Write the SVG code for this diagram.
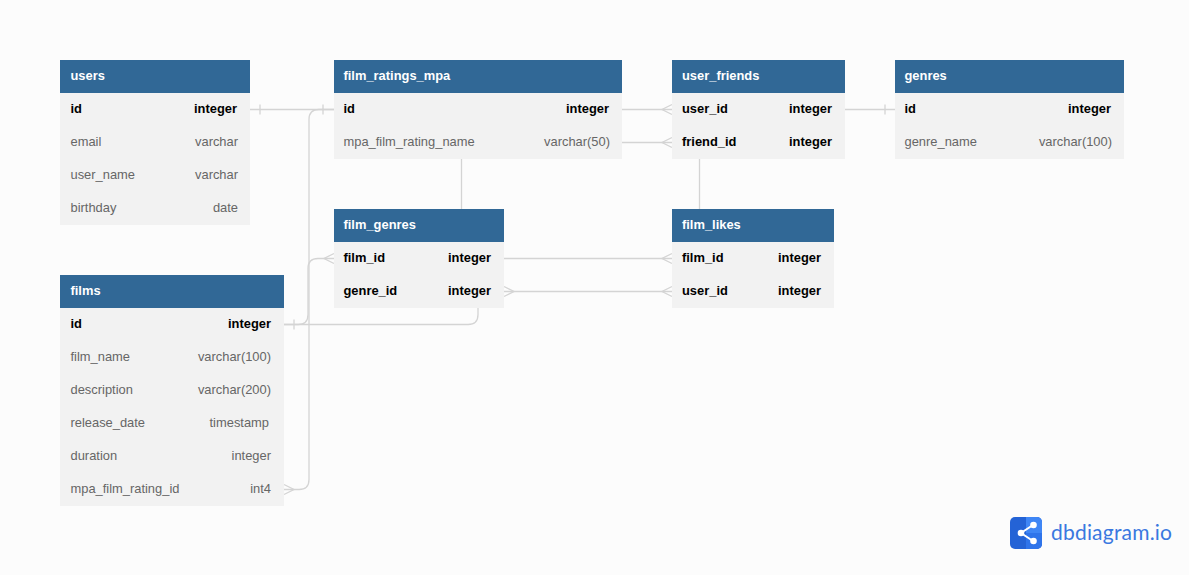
<svg xmlns="http://www.w3.org/2000/svg" width="1189" height="575" viewBox="0 0 1189 575">
<style>
text{font-family:"Liberation Sans",Arial,sans-serif;font-size:12.9px}
.hb{fill:#316896}
.bd{fill:#f2f2f2}
.h{fill:#fff;font-weight:700}
.k{fill:#000;font-weight:700}
.n{fill:#666}
.e{text-anchor:end}
.c{fill:none;stroke:#d4d4d4;stroke-width:1.3}
</style>
<rect width="1189" height="575" fill="#fcfcfc"/>
<g id="connectors" class="c">
<path d="M250 109.500H334M260 104.500v10M323 104.500v10"/>
<path d="M284 489.500H299Q309 489.500 309 479.500V119.500Q309 109.500 319 109.500H334"/>
<path d="M284 484.500L294 489.500L284 494.500"/>
<path d="M284 324.500H298Q308 324.500 308 314.500V268.500Q308 258.500 318 258.500H334"/>
<path d="M334 253.500L324 258.500L334 263.500M294 319.500v10"/>
<path d="M284 324.500H468Q478 324.500 478 314.500V308"/>
<path d="M461.500 159V209M699.500 159V209"/>
<path d="M622 109.500H672M622 142.500H672"/>
<path d="M672 104.500L662 109.500L672 114.500M672 137.500L662 142.500L672 147.500"/>
<path d="M845 109.500H895M885 104.500v10"/>
<path d="M504 258.500H672M504 291.500H672"/>
<path d="M672 253.500L662 258.500L672 263.500M672 286.500L662 291.500L672 296.500M504 286.500L514 291.500L504 296.500"/>
</g>
<g id="users">
<rect class="bd" x="60" y="93" width="190" height="132"/><rect class="hb" x="60" y="60" width="190" height="33"/>
<text class="h" x="70.500" y="79.500">users</text>
<text class="k" x="70.500" y="112.500">id</text><text class="k e" x="237" y="112.500">integer</text>
<text class="n" x="70.500" y="145.500">email</text><text class="n e" x="238" y="145.500">varchar</text>
<text class="n" x="70.500" y="178.500">user_name</text><text class="n e" x="238" y="178.500">varchar</text>
<text class="n" x="70.500" y="211.500">birthday</text><text class="n e" x="238" y="211.500">date</text>
</g>
<g id="films">
<rect class="bd" x="60" y="308" width="224" height="198"/><rect class="hb" x="60" y="275" width="224" height="33"/>
<text class="h" x="70.500" y="294.500">films</text>
<text class="k" x="70.500" y="327.500">id</text><text class="k e" x="271" y="327.500">integer</text>
<text class="n" x="70.500" y="360.500">film_name</text><text class="n e" x="271" y="360.500">varchar(100)</text>
<text class="n" x="70.500" y="393.500">description</text><text class="n e" x="271" y="393.500">varchar(200)</text>
<text class="n" x="70.500" y="426.500">release_date</text><text class="n e" x="269" y="426.500">timestamp</text>
<text class="n" x="70.500" y="459.500">duration</text><text class="n e" x="271" y="459.500">integer</text>
<text class="n" x="70.500" y="492.500">mpa_film_rating_id</text><text class="n e" x="271" y="492.500">int4</text>
</g>
<g id="film_ratings_mpa">
<rect class="bd" x="334" y="93" width="288" height="66"/><rect class="hb" x="334" y="60" width="288" height="33"/>
<text class="h" x="343.500" y="79.500">film_ratings_mpa</text>
<text class="k" x="343.500" y="112.500">id</text><text class="k e" x="609" y="112.500">integer</text>
<text class="n" x="343.500" y="145.500">mpa_film_rating_name</text><text class="n e" x="610" y="145.500">varchar(50)</text>
</g>
<g id="user_friends">
<rect class="bd" x="672" y="93" width="173" height="66"/><rect class="hb" x="672" y="60" width="173" height="33"/>
<text class="h" x="682" y="79.500">user_friends</text>
<text class="k" x="682" y="112.500">user_id</text><text class="k e" x="832" y="112.500">integer</text>
<text class="k" x="682" y="145.500">friend_id</text><text class="k e" x="832" y="145.500">integer</text>
</g>
<g id="genres">
<rect class="bd" x="895" y="93" width="229" height="66"/><rect class="hb" x="895" y="60" width="229" height="33"/>
<text class="h" x="904.500" y="79.500">genres</text>
<text class="k" x="904.500" y="112.500">id</text><text class="k e" x="1111" y="112.500">integer</text>
<text class="n" x="904.500" y="145.500">genre_name</text><text class="n e" x="1112" y="145.500">varchar(100)</text>
</g>
<g id="film_genres">
<rect class="bd" x="334" y="242" width="170" height="66"/><rect class="hb" x="334" y="209" width="170" height="33"/>
<text class="h" x="343.500" y="228.500">film_genres</text>
<text class="k" x="343.500" y="261.500">film_id</text><text class="k e" x="491" y="261.500">integer</text>
<text class="k" x="343.500" y="294.500">genre_id</text><text class="k e" x="491" y="294.500">integer</text>
</g>
<g id="film_likes">
<rect class="bd" x="672" y="242" width="162" height="66"/><rect class="hb" x="672" y="209" width="162" height="33"/>
<text class="h" x="682" y="228.500">film_likes</text>
<text class="k" x="682" y="261.500">film_id</text><text class="k e" x="821" y="261.500">integer</text>
<text class="k" x="682" y="294.500">user_id</text><text class="k e" x="821" y="294.500">integer</text>
</g>
<g id="logo">
<rect x="1010" y="517" width="32" height="32" rx="5" fill="#2463d6"/>
<path d="M1026 517h11a5 5 0 0 1 5 5v11h-16z" fill="#3f86f5"/>
<path d="M1026 533h16v11a5 5 0 0 1-5 5h-11z" fill="#2f74ea"/>
<path d="M1033 525L1021 533L1033 541" fill="none" stroke="#fff" stroke-width="2"/>
<circle cx="1021" cy="533" r="3.300" fill="#fff"/><circle cx="1033.500" cy="525" r="3.300" fill="#fff"/><circle cx="1033.500" cy="541" r="3.300" fill="#fff"/>
<text x="1051" y="540" style="font-family:Lato,sans-serif;font-size:21px;letter-spacing:.2px" fill="#3a78e0">dbdiagram.io</text>
</g>
</svg>
